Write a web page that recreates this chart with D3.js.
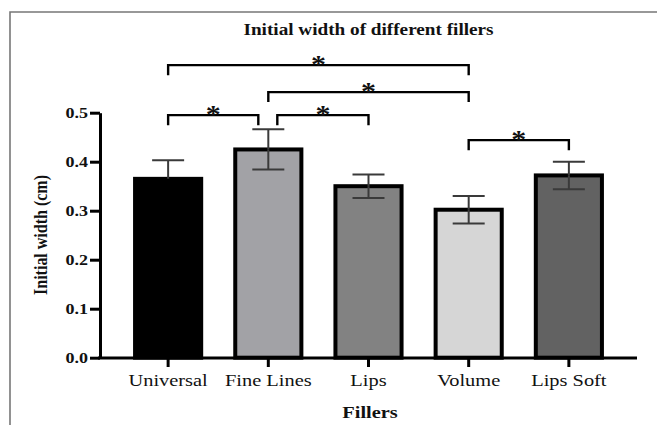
<!DOCTYPE html>
<html>
<head>
<meta charset="utf-8">
<script src="https://cdn.jsdelivr.net/npm/d3@7"></script>
<style>
  body { margin: 0; background: #fff; }
  svg text { font-family: "Liberation Serif", "Times New Roman", serif; fill: #111; }
</style>
</head>
<body>
<svg id="chart" width="657" height="425"></svg>
<script>
const categories = ['Universal', 'Fine Lines', 'Lips', 'Volume', 'Lips Soft'];
const means = [0.365, 0.425, 0.350, 0.302, 0.372];
const sds = [0.038, 0.041, 0.024, 0.028, 0.028];
const fills = ['#000000', '#a2a2a6', '#828282', '#d6d6d6', '#626262'];
const yTicks = [0, 0.1, 0.2, 0.3, 0.4, 0.5];
// significance brackets: from, to, height (cm)
const sigFrom = ['Universal', 'Fine Lines', 'Universal', 'Fine Lines', 'Volume'];
const sigTo = ['Volume', 'Volume', 'Fine Lines', 'Lips', 'Lips Soft'];
const sigLevel = [0.597, 0.542, 0.495, 0.495, 0.444];

const svg = d3.select("#chart");
const sx = 1.2; // source picture is a bit stretched sideways
const serif = '"Liberation Serif", "Times New Roman", serif';

// frame
svg.append("path")
   .attr("d", "M10,425 L10,12 L657,12")
   .attr("fill", "none")
   .attr("stroke", "#777")
   .attr("stroke-width", 1.6);

const xScale = d3.scaleBand()
                .domain(categories)
                .range([100, 637])
                .paddingInner(0.34)
                .paddingOuter(0.35);

const yScale = d3.scaleLinear()
                .domain([0, 0.5])
                .range([357.7, 112.7]);

// bars
svg.selectAll("rect.bar")
   .data(categories)
   .enter().append("rect")
   .attr("class", "bar")
   .attr("x", d => xScale(d))
   .attr("y", (d, i) => yScale(means[i]))
   .attr("width", xScale.bandwidth())
   .attr("height", (d, i) => yScale(0) - yScale(means[i]))
   .attr("fill", (d, i) => fills[i])
   .attr("stroke", "#000")
   .attr("stroke-width", 4);

// error bars (the lower half disappears into the black bar)
const cx = d => xScale(d) + xScale.bandwidth() / 2;
const eb = svg.append("g").attr("stroke", "#3a3a3a").attr("stroke-width", 2).attr("fill", "none");
categories.forEach((c, i) => {
  const top = yScale(means[i] + sds[i]), mid = yScale(means[i]), bot = yScale(means[i] - sds[i]);
  const low = fills[i] === '#000000' ? '#000' : '#3a3a3a';
  eb.append("line").attr("x1", cx(c)).attr("x2", cx(c)).attr("y1", top).attr("y2", mid);
  eb.append("line").attr("x1", cx(c) - 16).attr("x2", cx(c) + 16).attr("y1", top).attr("y2", top);
  eb.append("line").attr("x1", cx(c)).attr("x2", cx(c)).attr("y1", mid).attr("y2", bot).attr("stroke", low);
  eb.append("line").attr("x1", cx(c) - 16).attr("x2", cx(c) + 16).attr("y1", bot).attr("y2", bot).attr("stroke", low);
});

// y axis
const yAxis = svg.append("g")
   .attr("transform", "translate(100,0)")
   .call(d3.axisLeft(yScale).tickValues(yTicks).tickFormat(d3.format(".1f")).tickSize(10).tickSizeOuter(0))
   .attr("font-family", serif);
yAxis.select(".domain").attr("stroke", "#000").attr("stroke-width", 3);
yAxis.selectAll(".tick line").attr("stroke", "#000").attr("stroke-width", 3);
yAxis.selectAll(".tick text")
   .attr("x", -10)
   .attr("transform", `scale(${sx},1)`)
   .style("font-size", "15px").style("font-weight", "bold").attr("fill", "#111");

// x axis
const xAxis = svg.append("g")
   .attr("transform", "translate(0,358)")
   .call(d3.axisBottom(xScale).tickSize(9).tickSizeOuter(0).tickPadding(8))
   .attr("font-family", serif);
xAxis.select(".domain").attr("d", "M98,0H637").attr("stroke", "#000").attr("stroke-width", 3);
xAxis.selectAll(".tick line").attr("stroke", "#000").attr("stroke-width", 3);
xAxis.selectAll(".tick text")
   .attr("transform", `scale(${sx},1)`)
   .attr("y", 28).attr("dy", 0)
   .style("font-size", "17px").attr("fill", "#222");

// significance brackets
const br = svg.append("g");
sigFrom.forEach((a, i) => {
  const b = sigTo[i];
  let x1 = cx(a), x2 = cx(b);
  // pairs sharing the Fine Lines end are pulled apart a little
  if (sigLevel[i] === 0.495 && b === 'Fine Lines') x2 -= 10;
  if (sigLevel[i] === 0.495 && a === 'Fine Lines') x1 += 9;
  const y = yScale(sigLevel[i]);
  br.append("path")
    .attr("d", `M${x1},${y + 10}V${y}H${x2}V${y + 10}`)
    .attr("fill", "none").attr("stroke", "#000").attr("stroke-width", 2.4);
  br.append("text")
    .attr("transform", `translate(${(x1 + x2) / 2},${y + 8}) scale(${sx},1)`)
    .attr("text-anchor", "middle")
    .style("font-size", "25px").style("font-weight", "bold")
    .text("*");
});

// titles
svg.append("text")
   .attr("transform", `translate(368.5,35) scale(${sx},1)`)
   .attr("text-anchor", "middle")
   .style("font-size", "16px").style("font-weight", "bold")
   .text("Initial width of different fillers");

svg.append("text")
   .attr("transform", `translate(370,418) scale(${sx},1)`)
   .attr("text-anchor", "middle")
   .style("font-size", "17px").style("font-weight", "bold")
   .text("Fillers");

svg.append("text")
   .attr("transform", "translate(47,235) rotate(-90) scale(1,1.2)")
   .attr("text-anchor", "middle")
   .style("font-size", "16px").style("font-weight", "bold")
   .text("Initial width (cm)");
</script>
</body>
</html>
